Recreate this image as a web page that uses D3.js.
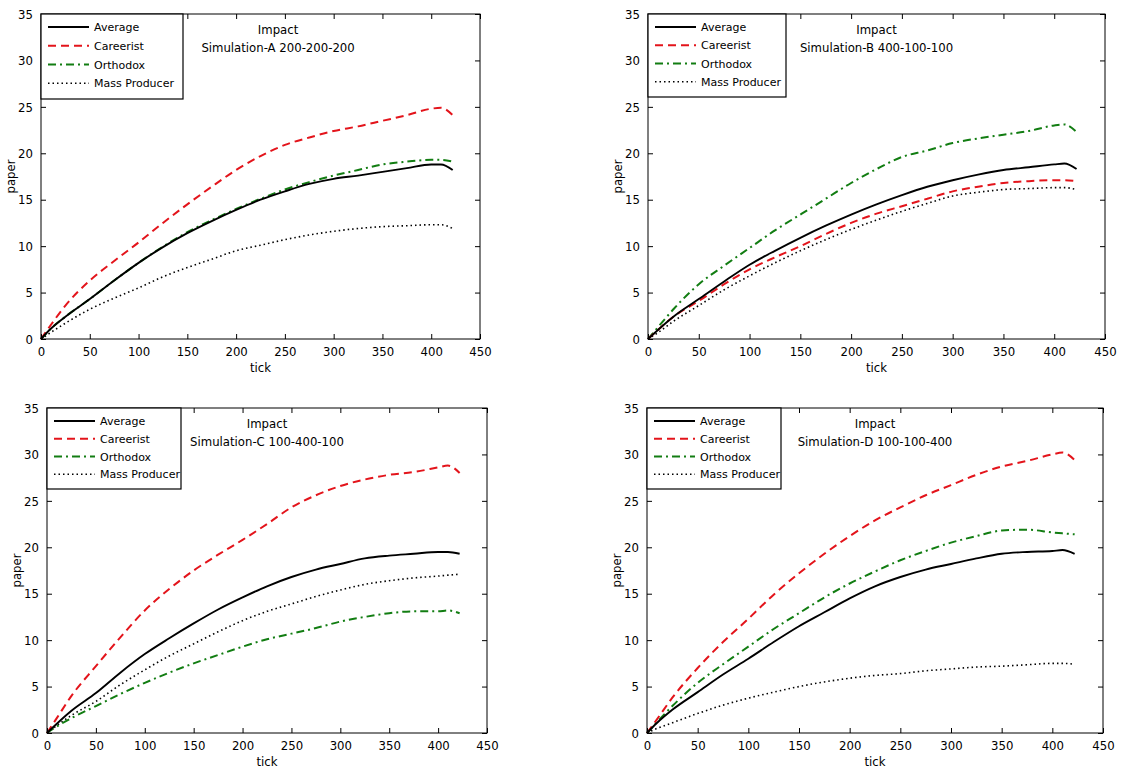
<!DOCTYPE html>
<html><head><meta charset="utf-8">
<script src="https://cdn.jsdelivr.net/npm/d3@7"></script>
<style>
body{margin:0;background:#fff;}
svg{display:block;}
.tk{font-family:"Liberation Sans Narrow","Arial Narrow","DejaVu Sans Condensed",sans-serif;font-size:13px;fill:#000;}
.lg{font-family:"DejaVu Sans",Verdana,sans-serif;font-size:11px;fill:#000;}
</style></head>
<body>
<script>
// ---- data ----
const ticks = [0,10,25,50,75,100,125,150,175,200,225,250,275,300,325,350,375,400,410,422];
const seriesNames = ["Average","Careerist","Orthodox","Mass Producer"];
const xTickValues = [0,50,100,150,200,250,300,350,400,450];
const yTickValues = [0,5,10,15,20,25,30,35];
const panelTitles = ["Simulation-A 200-200-200","Simulation-B 400-100-100","Simulation-C 100-400-100","Simulation-D 100-100-400"];

const avgA  = [0,1.1,2.4,4.3,6.3,8.2,9.9,11.4,12.7,13.9,15.0,15.9,16.7,17.25,17.6,18.0,18.4,18.8,18.8,18.2];
const carA  = [0,1.5,3.6,6.3,8.4,10.4,12.5,14.5,16.4,18.2,19.7,20.9,21.7,22.4,22.9,23.5,24.1,24.8,24.9,24.1];
const ortA  = [0,1.1,2.4,4.3,6.3,8.2,9.95,11.5,12.8,14.0,15.1,16.1,16.9,17.6,18.2,18.8,19.1,19.3,19.3,19.1];
const masA  = [0,0.7,1.7,3.2,4.4,5.5,6.7,7.7,8.6,9.5,10.1,10.7,11.2,11.6,11.9,12.1,12.2,12.3,12.3,11.9];

const avgB  = [0,1.0,2.4,4.3,6.2,8.0,9.5,10.9,12.2,13.4,14.5,15.5,16.4,17.1,17.7,18.2,18.5,18.8,18.9,18.3];
const carB  = [0,1.0,2.4,4.1,5.9,7.5,8.8,10.0,11.3,12.5,13.5,14.3,15.1,15.9,16.4,16.8,17.0,17.1,17.1,17.0];
const ortB  = [0,1.3,3.2,5.9,7.9,9.8,11.7,13.4,15.1,16.8,18.3,19.6,20.3,21.1,21.6,22.0,22.4,23.0,23.1,22.3];
const masB  = [0,0.7,1.9,3.6,5.3,6.8,8.2,9.5,10.7,11.8,12.8,13.75,14.6,15.4,15.8,16.1,16.2,16.3,16.3,16.1];

const avgC  = [0,1.0,2.4,4.3,6.5,8.5,10.2,11.8,13.3,14.6,15.8,16.8,17.6,18.2,18.8,19.1,19.3,19.5,19.5,19.3];
const carC  = [0,1.6,4.0,7.2,10.3,13.2,15.5,17.5,19.2,20.8,22.5,24.3,25.6,26.6,27.3,27.8,28.1,28.6,28.8,28.0];
const ortC  = [0,0.7,1.6,2.9,4.2,5.4,6.5,7.5,8.4,9.3,10.1,10.7,11.3,12.0,12.5,12.9,13.1,13.1,13.2,12.9];
const masC  = [0,0.8,1.9,3.4,5.2,6.8,8.3,9.6,10.9,12.1,13.1,13.9,14.7,15.4,16.0,16.4,16.7,16.9,17.0,17.1];

const avgD  = [0,1.1,2.5,4.4,6.3,8.0,9.8,11.5,13.0,14.5,15.8,16.8,17.6,18.2,18.8,19.3,19.5,19.6,19.7,19.3];
const carD  = [0,1.5,3.8,7.0,9.8,12.3,14.9,17.2,19.3,21.2,22.9,24.3,25.6,26.7,27.8,28.7,29.3,30.0,30.2,29.4];
const ortD  = [0,1.2,2.9,5.4,7.4,9.3,11.2,12.9,14.6,16.1,17.4,18.6,19.6,20.5,21.2,21.8,21.9,21.6,21.5,21.4];
const masD  = [0,0.5,1.1,2.1,3.0,3.75,4.4,5.0,5.5,5.9,6.2,6.4,6.7,6.9,7.1,7.2,7.35,7.5,7.5,7.4];

const panelData = [[avgA,carA,ortA,masA],[avgB,carB,ortB,masB],[avgC,carC,ortC,masC],[avgD,carD,ortD,masD]];

// ---- layout / styles ----
const W = 1139, H = 775;
const panels = [
  {x0:41,  x1:480,  y0:14,  y1:339, titleX:243, legW:142, legH:85},
  {x0:648, x1:1105, y0:14,  y1:339, titleX:225, legW:138, legH:83},
  {x0:47,  x1:487,  y0:408, y1:733, titleX:225, legW:134, legH:81},
  {x0:647, x1:1103, y0:408, y1:733, titleX:225, legW:134, legH:81}
];
const styles = [
  {color:"#000", width:1.9, dash:null},
  {color:"#e3141b", width:2, dash:"8,5"},
  {color:"#127d12", width:2, dash:"8,4,2,4"},
  {color:"#000", width:1.6, dash:"1.5,3"}
];

const svg = d3.select("body").append("svg").attr("width",W).attr("height",H);

panels.forEach((p,pi)=>{
  const x = d3.scaleLinear().domain([0,450]).range([p.x0,p.x1]);
  const y = d3.scaleLinear().domain([0,35]).range([p.y1,p.y0]);
  const g = svg.append("g");

  const line = d3.line().x((d,i)=>x(ticks[i])).y(d=>y(d)).curve(d3.curveMonotoneX);
  [3,2,1,0].forEach(si=>{
    const s = styles[si];
    g.append("path").datum(panelData[pi][si])
      .attr("d",line).attr("fill","none")
      .attr("stroke",s.color).attr("stroke-width",s.width)
      .attr("stroke-dasharray",s.dash).attr("stroke-linejoin","round");
  });

  const tl = 5;
  const bottom = g.append("g").attr("transform",`translate(0,${p.y1})`)
    .call(d3.axisBottom(x).tickValues(xTickValues).tickSize(-tl).tickPadding(8).tickFormat(d3.format("d")));
  const top = g.append("g").attr("transform",`translate(0,${p.y0})`)
    .call(d3.axisTop(x).tickValues(xTickValues).tickSize(-tl).tickFormat(""));
  const left = g.append("g").attr("transform",`translate(${p.x0},0)`)
    .call(d3.axisLeft(y).tickValues(yTickValues).tickSize(-tl).tickPadding(8).tickFormat(d3.format("d")));
  const right = g.append("g").attr("transform",`translate(${p.x1},0)`)
    .call(d3.axisRight(y).tickValues(yTickValues).tickSize(-tl).tickFormat(""));
  [bottom,top,left,right].forEach(a=>{
    a.select(".domain").remove();
    a.selectAll("line").attr("stroke","#000");
    a.selectAll("text").attr("class","tk").attr("font-family",null).attr("font-size",null);
  });
  g.append("rect").attr("x",p.x0).attr("y",p.y0).attr("width",p.x1-p.x0).attr("height",p.y1-p.y0)
    .attr("fill","none").attr("stroke","#000").attr("stroke-width",1);

  g.append("text").attr("class","tk").attr("text-anchor","middle")
    .attr("x",(p.x0+p.x1)/2).attr("y",p.y1+33).text("tick");
  g.append("text").attr("class","tk").attr("text-anchor","middle")
    .attr("transform",`translate(${p.x0-26},${(p.y0+p.y1)/2}) rotate(-90)`).text("paper");

  g.append("text").attr("class","tk").attr("text-anchor","middle")
    .attr("x",x(p.titleX)).attr("y",p.y0+20).text("Impact");
  g.append("text").attr("class","tk").attr("text-anchor","middle")
    .attr("x",x(p.titleX)).attr("y",p.y0+38).text(panelTitles[pi]);

  const lg = g.append("g").attr("transform",`translate(${p.x0},${p.y0})`);
  lg.append("rect").attr("width",p.legW).attr("height",p.legH)
    .attr("fill","#fff").attr("stroke","#000").attr("stroke-width",1.2);
  const step = (p.legH-10)/4;
  seriesNames.forEach((n,si)=>{
    const s = styles[si];
    const yy = 13 + si*step;
    lg.append("line").attr("x1",7).attr("x2",48).attr("y1",yy).attr("y2",yy)
      .attr("stroke",s.color).attr("stroke-width",s.width).attr("stroke-dasharray",s.dash);
    lg.append("text").attr("class","lg").attr("x",53).attr("y",yy+4).text(n);
  });
});
</script>
</body></html>
